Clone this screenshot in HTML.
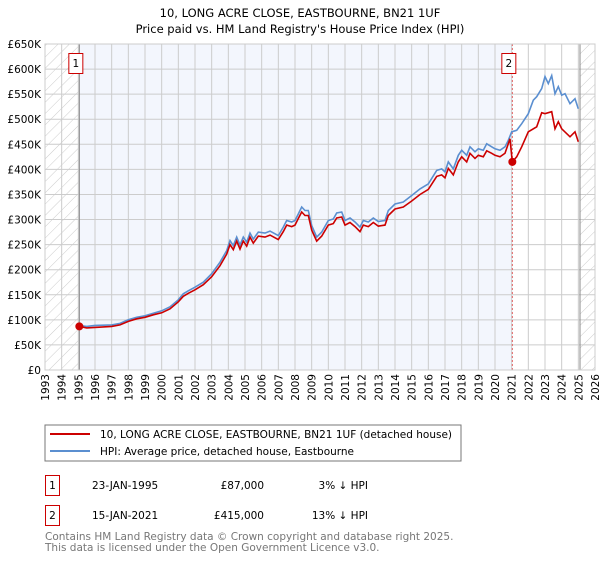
<!DOCTYPE html>
<html><head><meta charset="utf-8"><style>
body{margin:0;background:#fff;font-family:"DejaVu Sans","Liberation Sans",sans-serif;}
svg text{font-family:"DejaVu Sans","Liberation Sans",sans-serif;}
</style></head><body>
<svg id="c" width="600" height="560" viewBox="0 0 600 560">
<defs><pattern id="hatch" width="8" height="8" patternUnits="userSpaceOnUse" patternTransform="rotate(45)"><line x1="0" y1="0" x2="0" y2="8" stroke="#ccc" stroke-width="1"/></pattern></defs>
<text x="300" y="17" text-anchor="middle" font-size="11.5">10, LONG ACRE CLOSE, EASTBOURNE, BN21 1UF</text>
<text x="300" y="33" text-anchor="middle" font-size="11.5">Price paid vs. HM Land Registry's House Price Index (HPI)</text>
<g id="plot"></g>
<rect x="45" y="425" width="416" height="36" fill="#fff" stroke="#777"/>
<line x1="50" y1="434" x2="90" y2="434" stroke="#cc0000" stroke-width="2"/>
<text x="100" y="438" font-size="10.5">10, LONG ACRE CLOSE, EASTBOURNE, BN21 1UF (detached house)</text>
<line x1="50" y1="451" x2="90" y2="451" stroke="#5b8fd0" stroke-width="2"/>
<text x="100" y="455" font-size="10.5">HPI: Average price, detached house, Eastbourne</text>
<g font-size="10.5">
<rect x="45.5" y="475.5" width="14" height="20" fill="#fff" stroke="#cc0000"/>
<text x="52.5" y="489" text-anchor="middle">1</text>
<text x="92" y="489">23-JAN-1995</text>
<text x="264" y="489" text-anchor="end">£87,000</text>
<text x="368" y="489" text-anchor="end">3% ↓ HPI</text>
</g>
<g font-size="10.5">
<rect x="45.5" y="505.5" width="14" height="20" fill="#fff" stroke="#cc0000"/>
<text x="52.5" y="519" text-anchor="middle">2</text>
<text x="92" y="519">15-JAN-2021</text>
<text x="264" y="519" text-anchor="end">£415,000</text>
<text x="368" y="519" text-anchor="end">13% ↓ HPI</text>
</g>
<text x="45" y="540" font-size="10.5" fill="#777">Contains HM Land Registry data © Crown copyright and database right 2025.</text>
<text x="45" y="551" font-size="10.5" fill="#777">This data is licensed under the Open Government Licence v3.0.</text>
</svg>
<script>
const yTicks=[0,50,100,150,200,250,300,350,400,450,500,550,600,650];
const yTickLabels=["£0","£50K","£100K","£150K","£200K","£250K","£300K","£350K","£400K","£450K","£500K","£550K","£600K","£650K"];
const xYears=[1993,1994,1995,1996,1997,1998,1999,2000,2001,2002,2003,2004,2005,2006,2007,2008,2009,2010,2011,2012,2013,2014,2015,2016,2017,2018,2019,2020,2021,2022,2023,2024,2025,2026];
const hpiYears=[1995.0,1995.5,1996,1997,1997.5,1998,1998.5,1999,1999.5,2000,2000.5,2001,2001.3,2001.6,2002,2002.5,2003,2003.5,2003.9,2004.1,2004.3,2004.5,2004.7,2004.9,2005.1,2005.3,2005.5,2005.8,2006.2,2006.5,2007,2007.3,2007.5,2007.8,2008,2008.2,2008.4,2008.6,2008.8,2009.0,2009.3,2009.6,2010,2010.3,2010.5,2010.8,2011,2011.3,2011.6,2011.9,2012.1,2012.4,2012.7,2013,2013.4,2013.6,2014,2014.5,2015,2015.5,2016,2016.5,2016.8,2017,2017.2,2017.5,2017.8,2018,2018.3,2018.5,2018.8,2019,2019.3,2019.5,2019.8,2020,2020.3,2020.6,2020.8,2021,2021.3,2021.6,2022,2022.3,2022.5,2022.8,2023,2023.2,2023.4,2023.6,2023.8,2024,2024.2,2024.5,2024.8,2025];
const hpiValues=[89,87,89,90,93,100,105,108,113,118,126,140,152,158,165,175,192,215,238,258,248,265,249,265,255,273,261,275,273,277,268,285,298,295,298,311,325,318,318,288,265,275,298,301,313,315,298,303,295,285,298,295,303,296,298,318,331,335,348,361,371,398,401,395,415,401,428,438,428,445,435,441,438,451,445,441,438,445,458,475,478,491,511,538,545,561,585,571,587,551,565,548,551,531,541,521];
const saleYears=[1995.06,1995.5,1996,1997,1997.5,1998,1998.5,1999,1999.5,2000,2000.5,2001,2001.3,2001.6,2002,2002.5,2003,2003.5,2003.9,2004.1,2004.3,2004.5,2004.7,2004.9,2005.1,2005.3,2005.5,2005.8,2006.2,2006.5,2007,2007.3,2007.5,2007.8,2008,2008.2,2008.4,2008.6,2008.8,2009.0,2009.3,2009.6,2010,2010.3,2010.5,2010.8,2011,2011.3,2011.6,2011.9,2012.1,2012.4,2012.7,2013,2013.4,2013.6,2014,2014.5,2015,2015.5,2016,2016.5,2016.8,2017,2017.2,2017.5,2017.8,2018,2018.3,2018.5,2018.8,2019,2019.3,2019.5,2019.8,2020,2020.3,2020.6,2020.9,2021.04,2021.3,2021.6,2022,2022.5,2022.8,2023,2023.4,2023.6,2023.8,2024,2024.5,2024.8,2025];
const saleValues=[87,84,85,87,90,97,102,105,110,114,122,136,147,153,160,170,186,208,231,250,240,257,241,257,247,265,253,267,265,269,260,276,289,286,289,302,315,308,308,279,257,267,289,292,303,305,289,294,286,276,289,286,294,287,289,308,321,325,337,350,360,386,389,383,402,389,415,425,415,432,422,428,425,437,432,428,425,432,461,415,425,445,475,485,513,511,515,481,495,481,465,475,455];
const sales=[{year:1995.06,value:87,label:"1"},{year:2021.04,value:415,label:"2"}];

const NS="http://www.w3.org/2000/svg";
const L=45,R=595,T=44,B=370;
const xS=y=>L+(y-1993)/(2026-1993)*(R-L);
const yS=v=>B-v/650*(B-T);
const g=document.getElementById('plot');
function mk(t,a){const e=document.createElementNS(NS,t);for(const k in a)e.setAttribute(k,a[k]);g.appendChild(e);return e;}
let e;
e=mk('rect',{x:L,y:T,width:R-L,height:B-T,fill:'#fff'});


e=mk('rect',{x:xS(1995.06),y:T,width:xS(2021.04)-xS(1995.06),height:B-T,fill:'#f3f6fd'});


e=mk('rect',{x:L,y:T,width:xS(1995.06)-L,height:B-T,fill:'url(#hatch)'});


e=mk('rect',{x:xS(2025.1),y:T,width:R-xS(2025.1),height:B-T,fill:'url(#hatch)'});


xYears.forEach(yr=>{
 e=mk('line',{x1:xS(yr),x2:xS(yr),y1:T,y2:B,stroke:'#ccc','stroke-width':1});
 
 
 const tx=xS(yr)+4,ty=374;
 e=mk('text',{x:tx,y:ty,'font-size':10.5,'text-anchor':'end',transform:`rotate(-90 ${tx} ${ty})`});
 e.textContent=yr;
 
 
});
yTicks.forEach((v,i)=>{
 e=mk('line',{x1:L,x2:R,y1:yS(v),y2:yS(v),stroke:'#ccc','stroke-width':1});
 
 
 e=mk('text',{x:41,y:yS(v)+4,'font-size':10.5,'text-anchor':'end'});
 e.textContent=yTickLabels[i];
 
 
});
e=mk('line',{x1:xS(1995.06),x2:xS(1995.06),y1:T,y2:B,stroke:'#888','stroke-width':1});


e=mk('line',{x1:xS(2021.04),x2:xS(2021.04),y1:T,y2:B,stroke:'#e06060','stroke-width':1,'stroke-dasharray':'2,2'});


e=mk('line',{x1:xS(2025.1),x2:xS(2025.1),y1:T,y2:B,stroke:'#888','stroke-width':1});


const pts=(xs,vs)=>xs.map((x,i)=>xS(x).toFixed(1)+','+yS(vs[i]).toFixed(1)).join(' ');
e=mk('polyline',{points:pts(hpiYears,hpiValues),fill:'none',stroke:'#5b8fd0','stroke-width':1.6});


e=mk('polyline',{points:pts(saleYears,saleValues),fill:'none',stroke:'#cc0000','stroke-width':1.6});


sales.forEach(s=>{
 e=mk('circle',{cx:xS(s.year),cy:yS(s.value),r:4,fill:'#cc0000'});
 
 
 e=mk('rect',{x:xS(s.year)-10.5,y:53.5,width:14,height:20,fill:'#fff',stroke:'#cc0000'});
 
 
 e=mk('text',{x:xS(s.year)-3.5,y:67,'font-size':10.5,'text-anchor':'middle'});
 e.textContent=s.label;
 
 
});
e=mk('rect',{x:L,y:T,width:R-L,height:B-T,fill:'none',stroke:'#ccc'});


</script>
</body></html>
